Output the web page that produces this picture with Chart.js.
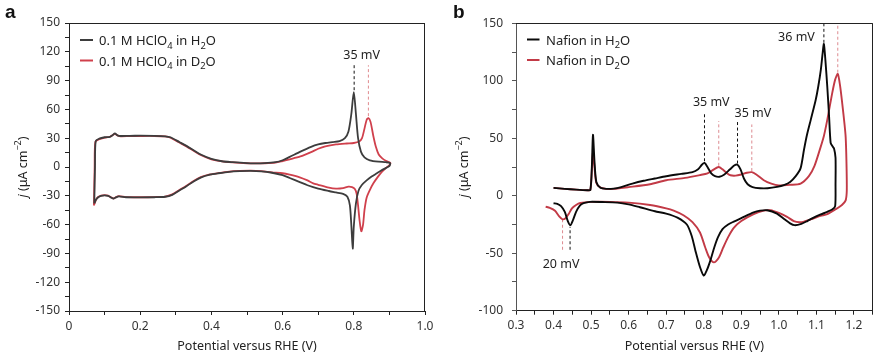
<!DOCTYPE html>
<html><head><meta charset="utf-8">
<script src="https://cdn.jsdelivr.net/npm/chart.js@4/dist/chart.umd.min.js"></script>
<style>
html,body{margin:0;padding:0;background:#fff;}
#wrap{position:relative;width:880px;height:356px;overflow:hidden;}
.p{position:absolute;top:0;width:440px;height:356px;}
</style></head><body>
<div id="wrap">
<div class="p" style="left:0"><canvas id="ca" width="440" height="356"></canvas></div>
<div class="p" style="left:440px"><canvas id="cb" width="440" height="356"></canvas></div>
</div>
<script>
// ---------------- DATA: panel a (0.1 M HClO4) ----------------
const aH2O_E = [0.071,0.073,0.075,0.085,0.1,0.115,0.122,0.129,0.136,0.145,0.17,0.2,0.24,0.27,0.285,0.31,0.33,0.35,0.37,0.4,0.43,0.46,0.5,0.52,0.55,0.58,0.6,0.62,0.65,0.68,0.7,0.72,0.74,0.76,0.775,0.785,0.793,0.8,0.806,0.812,0.82,0.83,0.845,0.87,0.89,0.902,
  0.9,0.88,0.865,0.85,0.836,0.822,0.813,0.806,0.8,0.797,0.793,0.789,0.782,0.77,0.75,0.73,0.7,0.67,0.65,0.62,0.6,0.57,0.54,0.51,0.48,0.45,0.42,0.396,0.37,0.35,0.33,0.31,0.29,0.27,0.24,0.2,0.16,0.14,0.13,0.125,0.118,0.11,0.1,0.09,0.082,0.076,0.071];
const aH2O_j = [-38,0,27,29.5,31,31.5,33,35,33,32.3,32.5,32.6,32.5,32,31,26,22,17.5,13,8.5,6,5,4,3.8,4,5,7,10.5,16,21,23.5,25,26,27,30,37,55,78,55,30,16,10,7,5.5,5,4,
  1,-3,-6.5,-10,-14,-19,-25,-38,-62,-85,-60,-40,-31,-28,-26.5,-25,-22.5,-19,-16,-11.5,-8.5,-6,-4.5,-4,-4.3,-5,-6.5,-8,-11,-15,-20,-24.5,-29,-31,-31.5,-31.6,-31.5,-30.5,-32,-33,-31.8,-30,-29.5,-30,-31.5,-34,-38];
const aD2O_E = [0.07,0.072,0.074,0.085,0.1,0.115,0.122,0.129,0.136,0.145,0.17,0.2,0.24,0.27,0.285,0.31,0.33,0.35,0.37,0.4,0.43,0.46,0.5,0.52,0.55,0.58,0.6,0.62,0.65,0.68,0.7,0.72,0.75,0.78,0.8,0.815,0.823,0.83,0.836,0.841,0.847,0.855,0.862,0.87,0.88,0.89,0.9,0.903,
  0.9,0.89,0.88,0.868,0.855,0.845,0.836,0.83,0.826,0.821,0.816,0.812,0.808,0.803,0.795,0.785,0.77,0.75,0.73,0.7,0.686,0.67,0.65,0.62,0.6,0.57,0.54,0.51,0.48,0.45,0.42,0.396,0.37,0.35,0.33,0.31,0.29,0.27,0.24,0.2,0.16,0.14,0.13,0.125,0.118,0.11,0.1,0.09,0.082,0.076,0.07];
const aD2O_j = [-40,0,26,29,30.5,31.5,33,34.5,33,32,32.2,32.3,32.3,31.8,30.5,25.5,21.5,17,12.5,8,5.8,4.8,3.9,3.7,3.9,4.6,6.2,8,11,15.5,19,21.5,23.5,24.5,25,26.5,30,40,49,51,47,32,21,13,9,6.5,5,4,
  2,-1,-4.5,-10,-17,-24,-32,-45,-60,-67,-55,-40,-28,-23,-21,-20.5,-22,-22.5,-21.5,-18.5,-17,-14,-11,-8,-6.5,-5.5,-4.2,-3.8,-4.1,-4.8,-6.3,-7.8,-10.5,-14.5,-19.5,-24,-28.5,-30.8,-31.3,-31.5,-31.4,-30.3,-31.8,-32.8,-31.6,-29.8,-29.3,-29.8,-31.3,-34,-40];
// peak markers (E, lower j, upper j)
const aMark_E  = [0.801, 0.841];
const aMark_lo = [80, 53];
const aMark_hi = [108, 106];
const aNote = ['35 mV'];
const aNote_E = [0.822];
const aNote_j = [116];

// ---------------- DATA: panel b (Nafion) ----------------
const bH2O_E = [0.4,0.43,0.46,0.49,0.498,0.502,0.505,0.509,0.514,0.525,0.54,0.56,0.58,0.61,0.64,0.67,0.7,0.74,0.77,0.785,0.795,0.802,0.81,0.82,0.83,0.842,0.855,0.87,0.882,0.89,0.898,0.907,0.917,0.93,0.95,0.97,0.995,1.015,1.03,1.045,1.058,1.067,1.075,1.085,1.098,1.105,1.112,1.117,1.12,1.124,1.129,1.134,1.138,1.143,1.147,1.151,1.151,1.15,
  1.142,1.129,1.11,1.09,1.076,1.06,1.042,1.03,1.013,0.995,0.969,0.95,0.933,0.9,0.88,0.865,0.85,0.838,0.828,0.818,0.808,0.8,0.79,0.778,0.768,0.755,0.73,0.7,0.67,0.63,0.6,0.57,0.53,0.497,0.48,0.47,0.46,0.452,0.445,0.438,0.43,0.42,0.41,0.4];
const bH2O_j = [6.8,6,5.3,4.8,5,25,53,30,12,7,6,6.2,7.5,10.5,13,15,17,19,20.5,23,27,28.5,25,19.5,17,16.5,18.5,23,26.5,27,23,15,10,7.5,6.5,6.5,7.7,9.5,12,17,24,40,53,66,83,95,110,125,132,118,95,68,46,43,41,33,10,-9,
  -12,-14,-16.5,-19.5,-22,-24.5,-25.6,-24,-20,-15.5,-12.6,-13,-14.5,-19.5,-22.5,-25,-29,-36,-45,-56,-65,-69.5,-62,-48,-35,-25,-19,-15.5,-13.5,-10,-7.5,-6,-5.5,-5.3,-6.5,-8.5,-14,-21,-25.6,-22,-14,-9,-7,-6.5];
const bD2O_E = [0.4,0.43,0.46,0.49,0.498,0.502,0.505,0.509,0.514,0.525,0.54,0.56,0.6,0.657,0.7,0.75,0.79,0.81,0.825,0.84,0.85,0.862,0.871,0.885,0.9,0.915,0.928,0.94,0.96,0.98,1.0,1.03,1.058,1.08,1.095,1.11,1.12,1.129,1.142,1.15,1.157,1.163,1.169,1.175,1.178,1.18,1.181,
  1.178,1.168,1.15,1.129,1.111,1.09,1.067,1.055,1.04,1.022,1.0,0.978,0.96,0.933,0.9,0.88,0.865,0.852,0.84,0.827,0.815,0.804,0.79,0.77,0.746,0.72,0.7,0.657,0.6,0.55,0.5,0.471,0.46,0.449,0.44,0.432,0.424,0.415,0.404,0.39,0.379];
const bD2O_j = [6.8,6,5.3,4.8,5,22,38,25,11,7,6,6,7.5,10,13.5,15.5,18,19.5,22.5,25,23,19.5,17.8,17.5,18.5,20,20.5,18.5,13.5,10.5,9,9.5,10.6,17,26,41,52,66,89,101,106,96,80,62,51,31,5,
  -4,-8,-12,-16,-17.5,-20,-22.5,-23,-22,-18.4,-15,-12.6,-13,-16,-22,-28,-36,-45,-54,-58,-54,-45,-32,-23,-17,-13,-11,-8.1,-6,-5.3,-5.3,-6.3,-8,-11,-16,-19.5,-20.5,-18,-13,-10.5,-9.6];
// peak markers: black (H2O) then red (D2O)
const bMarkH_E  = [0.802, 0.89, 1.12, 0.444];
const bMarkH_lo = [30, 28, 133, -47];
const bMarkH_hi = [71, 65, 150, -27];
const bMarkD_E  = [0.84, 0.928, 1.157, 0.424];
const bMarkD_lo = [26, 21.5, 107, -47];
const bMarkD_hi = [65, 62, 150, -21];
const bNote   = ['35 mV', '35 mV', '36 mV', '20 mV'];
const bNote_E = [0.82, 0.931, 1.047, 0.42];
const bNote_j = [81, 72, 138, -59.5];

// ---------------- drawing ----------------
const FONT = '"Noto Sans", "DejaVu Sans", sans-serif';
const TXT = '#222';

function pts(E, J) { const n = Math.min(E.length, J.length); const out = []; for (let i = 0; i < n; i++) out.push({x: E[i], y: J[i]}); return out; }
function curve(label, E, J, color, w) {
  return {label, data: pts(E, J), borderColor: color, backgroundColor: color, borderWidth: w,
    pointRadius: 0, showLine: true, tension: 0.25, fill: false, order: 2};
}
function markers(E, lo, hi, color) {
  return E.map((e, i) => ({label: '', data: [{x: e, y: lo[i]}, {x: e, y: hi[i]}], borderColor: color,
    borderWidth: 1, borderDash: [3, 2.5], pointRadius: 0, showLine: true, tension: 0, order: 5}));
}

function drawRich(ctx, x, y, parts, size, align) {
  const fontOf = (p) => (p.i ? 'italic ' : '') + ((p.sub || p.sup) ? size * 0.72 : size) + 'px ' + FONT;
  let w = 0;
  parts.forEach(p => { ctx.font = fontOf(p); p.w = ctx.measureText(p.t).width; w += p.w; });
  let cx = align === 'center' ? x - w / 2 : x;
  ctx.textAlign = 'left'; ctx.textBaseline = 'alphabetic';
  parts.forEach(p => {
    ctx.font = fontOf(p);
    const dy = p.sub ? size * 0.28 : (p.sup ? -size * 0.42 : 0);
    ctx.fillText(p.t, cx, y + dy);
    cx += p.w;
  });
}

function overlay(o) {
  return {
    id: 'ov',
    afterDraw(chart) {
      const ctx = chart.ctx, ca = chart.chartArea, xs = chart.scales.x, ys = chart.scales.y;
      ctx.save();
      // top and right frame
      ctx.strokeStyle = '#222'; ctx.lineWidth = 1;
      ctx.beginPath();
      ctx.moveTo(ca.left, Math.round(ca.top) + 0.5); ctx.lineTo(ca.right, Math.round(ca.top) + 0.5);
      ctx.moveTo(Math.round(ca.right) - 0.5, ca.top); ctx.lineTo(Math.round(ca.right) - 0.5, ca.bottom);
      ctx.stroke();
      ctx.fillStyle = '#111';
      // panel letter
      ctx.font = 'bold 19px "Liberation Sans", Arial, sans-serif';
      ctx.textAlign = 'left'; ctx.textBaseline = 'alphabetic';
      ctx.fillText(o.letter, o.letterX, 18);
      ctx.fillStyle = TXT;
      // x title
      ctx.font = '12.5px ' + FONT; ctx.textAlign = 'center';
      ctx.fillText('Potential versus RHE (V)', (ca.left + ca.right) / 2, 350);
      // y title (rotated)
      ctx.save();
      ctx.translate(o.yTitleX, (ca.top + ca.bottom) / 2);
      ctx.rotate(-Math.PI / 2);
      drawRich(ctx, 0, 4.5, [{t: 'j', i: true}, {t: ' (μA cm'}, {t: '−2', sup: true}, {t: ')'}], 12.5, 'center');
      ctx.restore();
      // legend
      o.legend.forEach((it, k) => {
        const y = o.legY + k * 20.5;
        ctx.strokeStyle = it.color; ctx.lineWidth = 2;
        ctx.beginPath(); ctx.moveTo(o.legX0, y); ctx.lineTo(o.legX1, y); ctx.stroke();
        ctx.fillStyle = TXT;
        drawRich(ctx, o.legTX, y + 5, it.parts, 13, 'left');
      });
      // peak-shift notes
      ctx.fillStyle = TXT; ctx.font = '12.5px ' + FONT; ctx.textAlign = 'center'; ctx.textBaseline = 'middle';
      o.notes.forEach((t, i) => ctx.fillText(t, xs.getPixelForValue(o.notesE[i]), ys.getPixelForValue(o.notesJ[i])));
      ctx.restore();
    }
  };
}

function axisX(min, max, step, labelEvery, h) {
  return {
    type: 'linear', min, max,
    ticks: {stepSize: step, autoSkip: false, maxRotation: 0, color: '#333', padding: 4,
      font: {family: FONT, size: 12},
      callback: (v) => { const k = Math.round(v * 100); if (k % labelEvery !== 0) return ''; return k === 0 ? '0' : (k / 100).toFixed(1); }},
    grid: {drawOnChartArea: false, drawTicks: true, tickLength: 4, color: '#222'},
    border: {display: true, color: '#222', width: 1},
    afterFit: (s) => { s.height = h; }
  };
}
function axisY(min, max, step, labelEvery, w, pad, bcol) {
  return {
    type: 'linear', min, max,
    ticks: {stepSize: step, autoSkip: false, color: '#333', padding: pad,
      font: {family: FONT, size: 12},
      callback: (v) => { const k = Math.round(v); return (k % labelEvery === 0) ? String(k) : ''; }},
    grid: {drawOnChartArea: false, drawTicks: true, tickLength: 4, color: bcol},
    border: {display: true, color: bcol, width: 1},
    afterFit: (s) => { s.width = w; }
  };
}

const RED_A = '#d0404c', GRAY_A = '#3d3d3d';
const RED_B = '#c23a46', BLK_B = '#0a0a0a';

new Chart(document.getElementById('ca'), {
  type: 'scatter',
  data: {datasets: [
    curve('0.1 M HClO4 in H2O', aH2O_E, aH2O_j, GRAY_A, 1.8),
    curve('0.1 M HClO4 in D2O', aD2O_E, aD2O_j, RED_A, 1.8),
    ...markers([aMark_E[0]], [aMark_lo[0]], [aMark_hi[0]], '#111'),
    ...markers([aMark_E[1]], [aMark_lo[1]], [aMark_hi[1]], '#e08a8f')
  ]},
  options: {
    responsive: false, animation: false, devicePixelRatio: 1,
    layout: {padding: {left: 0, right: 15, top: 23, bottom: 0}},
    plugins: {legend: {display: false}, tooltip: {enabled: false}},
    scales: {x: axisX(0, 1, 0.1, 20, 45), y: axisY(-150, 150, 15, 30, 69, 5, '#222')}
  },
  plugins: [overlay({letter: 'a', letterX: 5, yTitleX: 22,
    legX0: 80, legX1: 93, legTX: 99, legY: 40,
    legend: [
      {color: GRAY_A, parts: [{t: '0.1 M HClO'}, {t: '4', sub: true}, {t: ' in H'}, {t: '2', sub: true}, {t: 'O'}]},
      {color: RED_A, parts: [{t: '0.1 M HClO'}, {t: '4', sub: true}, {t: ' in D'}, {t: '2', sub: true}, {t: 'O'}]}
    ],
    notes: aNote, notesE: aNote_E, notesJ: aNote_j})]
});

new Chart(document.getElementById('cb'), {
  type: 'scatter',
  data: {datasets: [
    curve('Nafion in H2O', bH2O_E, bH2O_j, BLK_B, 1.9),
    curve('Nafion in D2O', bD2O_E, bD2O_j, RED_B, 1.9),
    ...markers(bMarkH_E, bMarkH_lo, bMarkH_hi, '#111'),
    ...markers(bMarkD_E, bMarkD_lo, bMarkD_hi, '#dd8a90')
  ]},
  options: {
    responsive: false, animation: false, devicePixelRatio: 1,
    layout: {padding: {left: 0, right: 7.3, top: 23.3, bottom: 0}},
    plugins: {legend: {display: false}, tooltip: {enabled: false}},
    scales: {x: axisX(0.3, 1.25, 0.05, 10, 45.3), y: axisY(-100, 150, 25, 50, 76, 9, '#555')}
  },
  plugins: [overlay({letter: 'b', letterX: 13, yTitleX: 23,
    legX0: 87, legX1: 99.5, legTX: 106, legY: 39.5,
    legend: [
      {color: BLK_B, parts: [{t: 'Nafion in H'}, {t: '2', sub: true}, {t: 'O'}]},
      {color: RED_B, parts: [{t: 'Nafion in D'}, {t: '2', sub: true}, {t: 'O'}]}
    ],
    notes: bNote, notesE: bNote_E, notesJ: bNote_j})]
});
</script>
</body></html>
